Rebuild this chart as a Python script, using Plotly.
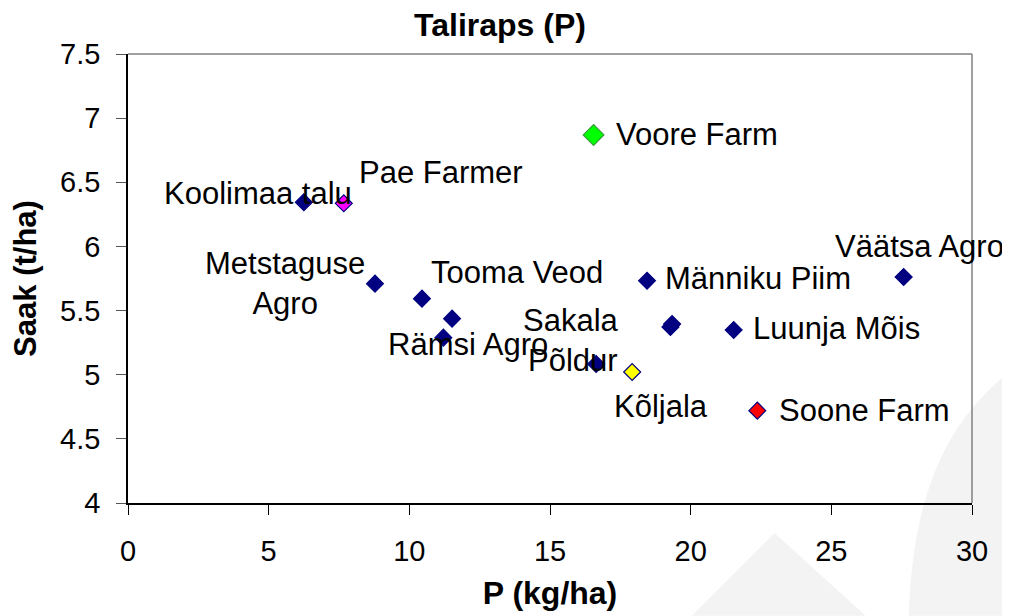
import plotly.graph_objects as go

# ---- data ----
farm_names = ["Koolimaa talu", "Pae Farmer", "Voore Farm", "Metstaguse<br>Agro",
              "Tooma Veod", "", "Rämsi Agro", "Põldur", "Kõljala",
              "Männiku Piim", "Sakala", "", "Luunja Mõis", "Väätsa Agro", "Soone Farm"]
p_kg_ha = [6.25, 7.67, 16.55, 8.78, 10.45, 11.52, 11.21, 16.64, 17.92,
           18.45, 19.28, 19.34, 21.53, 27.57, 22.37]
saak_t_ha = [6.344, 6.336, 6.869, 5.71, 5.593, 5.437, 5.289, 5.084, 5.021,
             5.733, 5.372, 5.395, 5.349, 5.762, 4.72]

x_ticks = [0, 5, 10, 15, 20, 25, 30]
y_ticks = [4, 4.5, 5, 5.5, 6, 6.5, 7, 7.5]

# ---- styling ----
NAVY = "#000080"
fill_colors = {"Pae Farmer": "#FF00FF", "Voore Farm": "#00FF00",
               "Kõljala": "#FFFF00", "Soone Farm": "#FF0000"}
line_colors = {"Voore Farm": "#3C9A3C"}
marker_sizes = {"Voore Farm": 16}
# label pixel offsets (dx right, dy up) relative to each point
label_offsets = {
    "Koolimaa talu": (-46, 9), "Pae Farmer": (97, 31), "Voore Farm": (103, 0),
    "Metstaguse<br>Agro": (-90, 0), "Tooma Veod": (95, 26), "Rämsi Agro": (25, -7),
    "Põldur": (-23, 3), "Kõljala": (29, -34), "Männiku Piim": (111, 2),
    "Sakala": (-99, 6), "Luunja Mõis": (103, 1), "Väätsa Agro": (16, 30),
    "Soone Farm": (107, 0),
}

FONT = "Liberation Sans, Arial, sans-serif"

mcolors = [fill_colors.get(n, NAVY) for n in farm_names]
lcolors = [line_colors.get(n, NAVY) for n in farm_names]
msizes = [marker_sizes.get(n, 13) for n in farm_names]

fig = go.Figure()
fig.add_trace(go.Scatter(
    x=p_kg_ha, y=saak_t_ha, mode="markers",
    marker=dict(symbol="diamond", size=msizes, color=mcolors, opacity=1,
                line=dict(color=lcolors, width=1.2)),
    showlegend=False, hoverinfo="x+y+text", text=farm_names,
))

annotations = []
for n, xv, yv in zip(farm_names, p_kg_ha, saak_t_ha):
    if not n:
        continue
    dx, dy = label_offsets[n]
    annotations.append(dict(
        x=xv, y=yv, xref="x", yref="y", text=n, showarrow=False,
        xanchor="center", yanchor="middle", xshift=dx, yshift=dy,
        font=dict(family=FONT, size=31, color="black"),
    ))

# faint watermark shapes in the bottom-right corner
shapes = [
    dict(type="path", xref="paper", yref="paper", layer="below",
         path="M 0.766 -0.067 L 0.668 -0.251 L 0.874 -0.251 Z",
         fillcolor="#F3F3F3", line=dict(width=0)),
    dict(type="path", xref="paper", yref="paper", layer="below",
         path="M 0.925 -0.251 C 0.93 0.05, 0.98 0.2, 1.05 0.3 L 1.05 -0.251 Z",
         fillcolor="#F3F3F3", line=dict(width=0)),
    dict(type="line", xref="paper", yref="paper", x0=0, x1=1, y0=1, y1=1,
         line=dict(color="#808080", width=1.5)),
    dict(type="line", xref="paper", yref="paper", x0=1, x1=1, y0=0, y1=1,
         line=dict(color="#808080", width=1.5)),
]

fig.update_layout(
    width=1002, height=608,
    margin=dict(l=120, r=38, t=46, b=113, autoexpand=False),
    paper_bgcolor="white", plot_bgcolor="rgba(0,0,0,0)",
    title=dict(text="<b>Taliraps (P)</b>", x=0.491, xref="container", xanchor="center",
               y=0.972, yref="container", yanchor="middle",
               font=dict(family=FONT, size=32, color="black")),
    font=dict(family=FONT, color="black"),
    annotations=annotations, shapes=shapes,
)
fig.update_xaxes(
    range=[0, 30], tickvals=x_ticks, ticktext=[str(v) for v in x_ticks],
    showgrid=False, zeroline=False, showline=True, linecolor="black", linewidth=1.5,
    ticks="outside", ticklen=10, tickcolor="black", tickwidth=1, automargin=False,
    tickfont=dict(family=FONT, size=29, color="black"), ticklabelstandoff=11,
    title=dict(text="<b>P (kg/ha)</b>", font=dict(family=FONT, size=32, color="black"),
               standoff=16),
)
fig.update_yaxes(
    range=[4, 7.5], tickvals=y_ticks, ticktext=[f"{v:g}" for v in y_ticks],
    showgrid=False, zeroline=False, showline=True, linecolor="black", linewidth=1.5,
    ticks="outside", ticklen=10, tickcolor="#555555", tickwidth=1, automargin=False,
    tickfont=dict(family=FONT, size=29, color="black"), ticklabelstandoff=10,
    title=dict(text="<b>Saak (t/ha)</b>", font=dict(family=FONT, size=31, color="black"),
               standoff=16),
)

fig.write_html("out.html")
